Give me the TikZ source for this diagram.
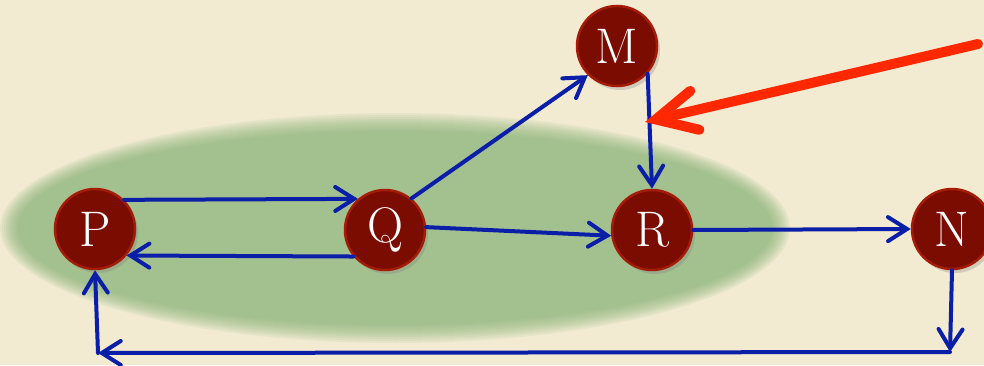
\documentclass[tikz,border=0pt]{standalone}
\usepackage{tikz}
\usetikzlibrary{arrows.meta,shadows}

\definecolor{paper}{RGB}{242,235,210}
\definecolor{blob}{RGB}{128,175,112}
\definecolor{dot}{RGB}{122,12,2}
\definecolor{dotrim}{RGB}{165,28,6}
\definecolor{link}{RGB}{10,30,168}
\definecolor{hint}{RGB}{255,40,0}

\begin{document}
\begin{tikzpicture}[x=1pt,y=1pt,
  vertex/.style={circle,fill=dot,draw=dotrim,line width=2.5pt,minimum size=80pt,inner sep=0pt,
    text=white,font=\fontsize{50}{50}\selectfont,
    drop shadow={shadow xshift=3pt,shadow yshift=-4pt,opacity=.3}},
  arrow/.style={-{Straight Barb[length=19pt,width=24pt,line width=4pt,line cap=round]},line width=4pt,draw=link,line cap=round},
  pointer/.style={-{Straight Barb[length=40pt,width=40pt,line width=10pt,line cap=round]},line width=10pt,draw=hint,line cap=round}]
\useasboundingbox[fill=paper] (0,0) rectangle (984,365);
% soft green region around P, Q and R
\foreach \d in {-8,-6,...,10}
  \fill[blob,opacity=.1] (395,137) ellipse ({385+\d} and {105+\d});
\node[vertex] (P) at (95,136) {P};
\node[vertex] (Q) at (385,135) {Q};
\node[vertex] (M) at (617,319) {M};
\node[vertex] (R) at (652,135) {R};
\node[vertex] (N) at (952,136) {N};
\coordinate (c1) at (950,13);
\coordinate (c2) at (98,12);
\coordinate (tail) at (978,321);
\coordinate (aim) at (645,243);
\draw[arrow] (P.45) -- (Q.131);
\draw[arrow] (Q.220) -- (P.320);
\draw[arrow] (Q.50) -- (M.225);
\draw[arrow] (Q.4) -- (R.188);
\draw[arrow] (M.-42) -- (R.north);
\draw[arrow] (R.east) -- (N.west);
\draw[arrow] (N.south) -- (c1);
\draw[arrow] (c1) -- (c2);
\draw[arrow] (c2) -- (P.south);
\draw[pointer] (tail) -- (aim);
\end{tikzpicture}
\end{document}
